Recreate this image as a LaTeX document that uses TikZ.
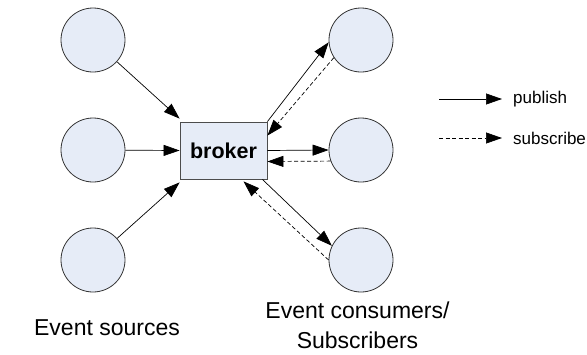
\documentclass[tikz,border=0pt]{standalone}
\usepackage{fontspec}
\setmainfont{Liberation Sans}
\usetikzlibrary{arrows.meta, positioning}
\definecolor{nodefill}{RGB}{230,236,247}

\begin{document}
\begin{tikzpicture}[x=1pt, y=-1pt,
    ev/.style={circle, draw=black!80, fill=nodefill, line width=0.8pt, minimum size=64pt, inner sep=0pt},
    pub/.style={-{Triangle[length=16pt, width=11pt]}, line width=0.7pt},
    sub/.style={pub, dash pattern=on 4pt off 2.5pt},
    lbl/.style={font=\fontsize{23}{30}\selectfont, align=center, inner sep=0pt},
    legtext/.style={font=\fontsize{17}{20}\selectfont, inner sep=0pt}]
    \useasboundingbox (0,0) rectangle (587,354);
    \node[ev] (s1) at (93,40) {};
    \node[ev] (s2) at (93,150) {};
    \node[ev] (s3) at (93,260) {};
    \node[ev] (c1) at (361,40) {};
    \node[ev] (c2) at (361,150) {};
    \node[ev] (c3) at (361,260) {};
    \node[draw=black!70, fill=nodefill, line width=0.8pt, minimum width=87pt, minimum height=57pt,
        font=\fontsize{21.5}{26}\selectfont\bfseries] (broker) at (223.5,150.5) {broker};
    \draw[pub] (s1) -- ([yshift=3pt]broker.north west);
    \draw[pub] (s2) -- (broker.west);
    \draw[pub] (s3) -- ([yshift=-3pt]broker.south west);
    \draw[pub] (broker.north east) -- (c1.184);
    \draw[sub] (c1.213) -- ([yshift=-14pt]broker.north east);
    \draw[pub] (broker.east) -- (c2.west);
    \draw[sub] (c2.200) -- ([yshift=-11pt]broker.east);
    \draw[pub] ([xshift=-5pt]broker.south east) -- (c3.154);
    \draw[sub] (c3.west) -- ([xshift=20pt, yshift=-2pt]broker.south);
    \node[lbl, anchor=base] (srclbl) at (107,335) {Event sources};
    \node[lbl, anchor=base] (conlbl) at (357.5,348) {Event consumers/\\Subscribers};
    \coordinate (pa) at (439,99);
    \coordinate (pb) at (502,99);
    \coordinate (sa) at (439,138);
    \coordinate (sb) at (502,138);
    \draw[pub] (pa) -- (pb);
    \draw[sub] (sa) -- (sb);
    \node[legtext, right=11pt of pb] (pubtxt) {publish};
    \node[legtext, right=11pt of sb] (subtxt) {subscribe};
\end{tikzpicture}
\end{document}
